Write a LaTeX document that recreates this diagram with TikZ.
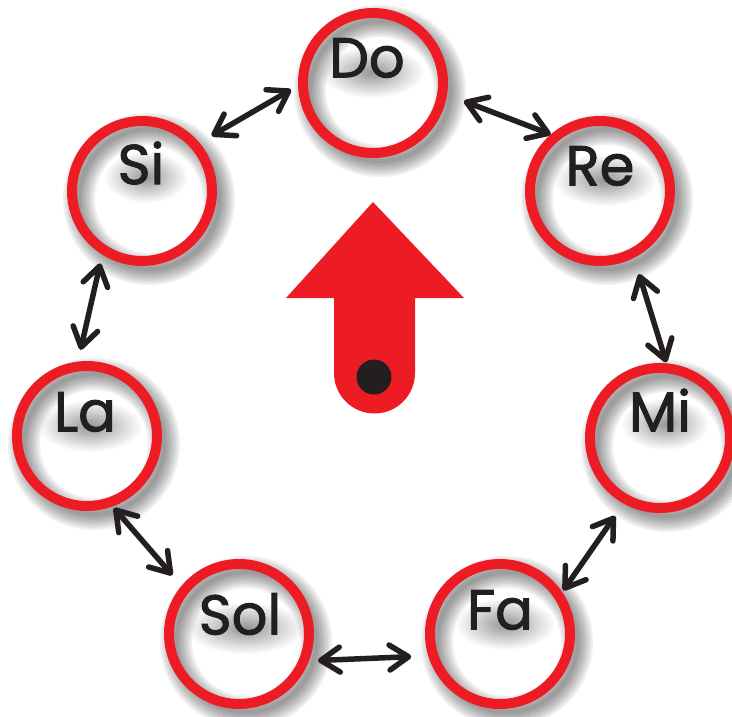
\documentclass[tikz,border=0pt]{standalone}
\usepackage{fontspec}
\setmainfont{Poppins}
\newfontfamily\notefont{Poppins}[FakeBold=1.8]
\usetikzlibrary{arrows.meta,calc,fadings}
\definecolor{ringred}{HTML}{ED1C24}
\definecolor{ink}{HTML}{231F20}
\tikzfading[name=softblob, inner color=transparent!25, outer color=transparent!100]
\begin{document}
\begin{tikzpicture}[x=1pt,y=-1pt,
  ring/.style={circle, draw=ringred, line width=10pt, minimum size=140pt, inner sep=0pt},
  lbl/.style={font=\notefont\fontsize{56}{56}\selectfont, text=ink, inner sep=0pt},
  tipbarb/.tip={Straight Barb[length=19pt,width=25pt,round]},
  dbl/.style={draw=ink, line width=5.5pt, line cap=round, tipbarb-tipbarb},
  blob/.style={fill=black, fill opacity=0.55, path fading=softblob},
]
\useasboundingbox (0,0) rectangle (732,716);
% ring shadows
\foreach \cx/\cy in {373/83,600/191,660/438,500/634,239/634,87/436,142/191}{
  \foreach \w in {4,8,...,32}{
    \draw[black, opacity=0.06, line width=\w pt] (\cx+7,\cy+8) circle (70);
  }
}
% rings, label shadows and labels
\foreach \nm/\cx/\cy/\tx/\ty/\hw in {Do/373/83/-6/-25/52, Re/600/191/0/-25/52, Mi/660/438/0/-28/44, Fa/500/634/0/-24/50, Sol/239/634/1/-20/60, La/87/436/-2/-24/52, Si/142/191/-1/-28/42}{
  \fill[blob] (\cx+\tx+5,\cy+\ty+14) ellipse [x radius=\hw, y radius=26];
  \node[ring] (\nm) at (\cx,\cy) {};
  \node[lbl] (\nm-txt) at (\cx+\tx,\cy+\ty) {\nm};
}
% connectors
\draw[dbl, shorten <=8pt, shorten >=14pt] (Do.182.8) -- (Si.40.5);
\draw[dbl, shorten <=18pt, shorten >=0pt] (Do.351.3) -- (Re.131.6);
\draw[dbl, shorten <=17pt, shorten >=1pt] (Re.297.1) -- (Mi.85.5);
\draw[dbl, shorten <=15pt, shorten >=2pt] (Mi.241.4) -- (Fa.34.9);
\draw[dbl, shorten <=17pt, shorten >=9pt] (Fa.197.6) -- (Sol.339.8);
\draw[dbl, shorten <=14pt, shorten >=2pt] (Sol.140.9) -- (La.290.6);
\draw[dbl, shorten <=12pt, shorten >=9pt] (La.97.3) -- (Si.238.6);
% central arrow
\fill[ringred] (373,202) -- (464,298) -- (415,298) -- (415,373)
  arc[start angle=0, end angle=180, radius=40.5] -- (334,298) -- (286,298) -- cycle;
\fill[ink] (374,377) circle (17.5);
\end{tikzpicture}
\end{document}
